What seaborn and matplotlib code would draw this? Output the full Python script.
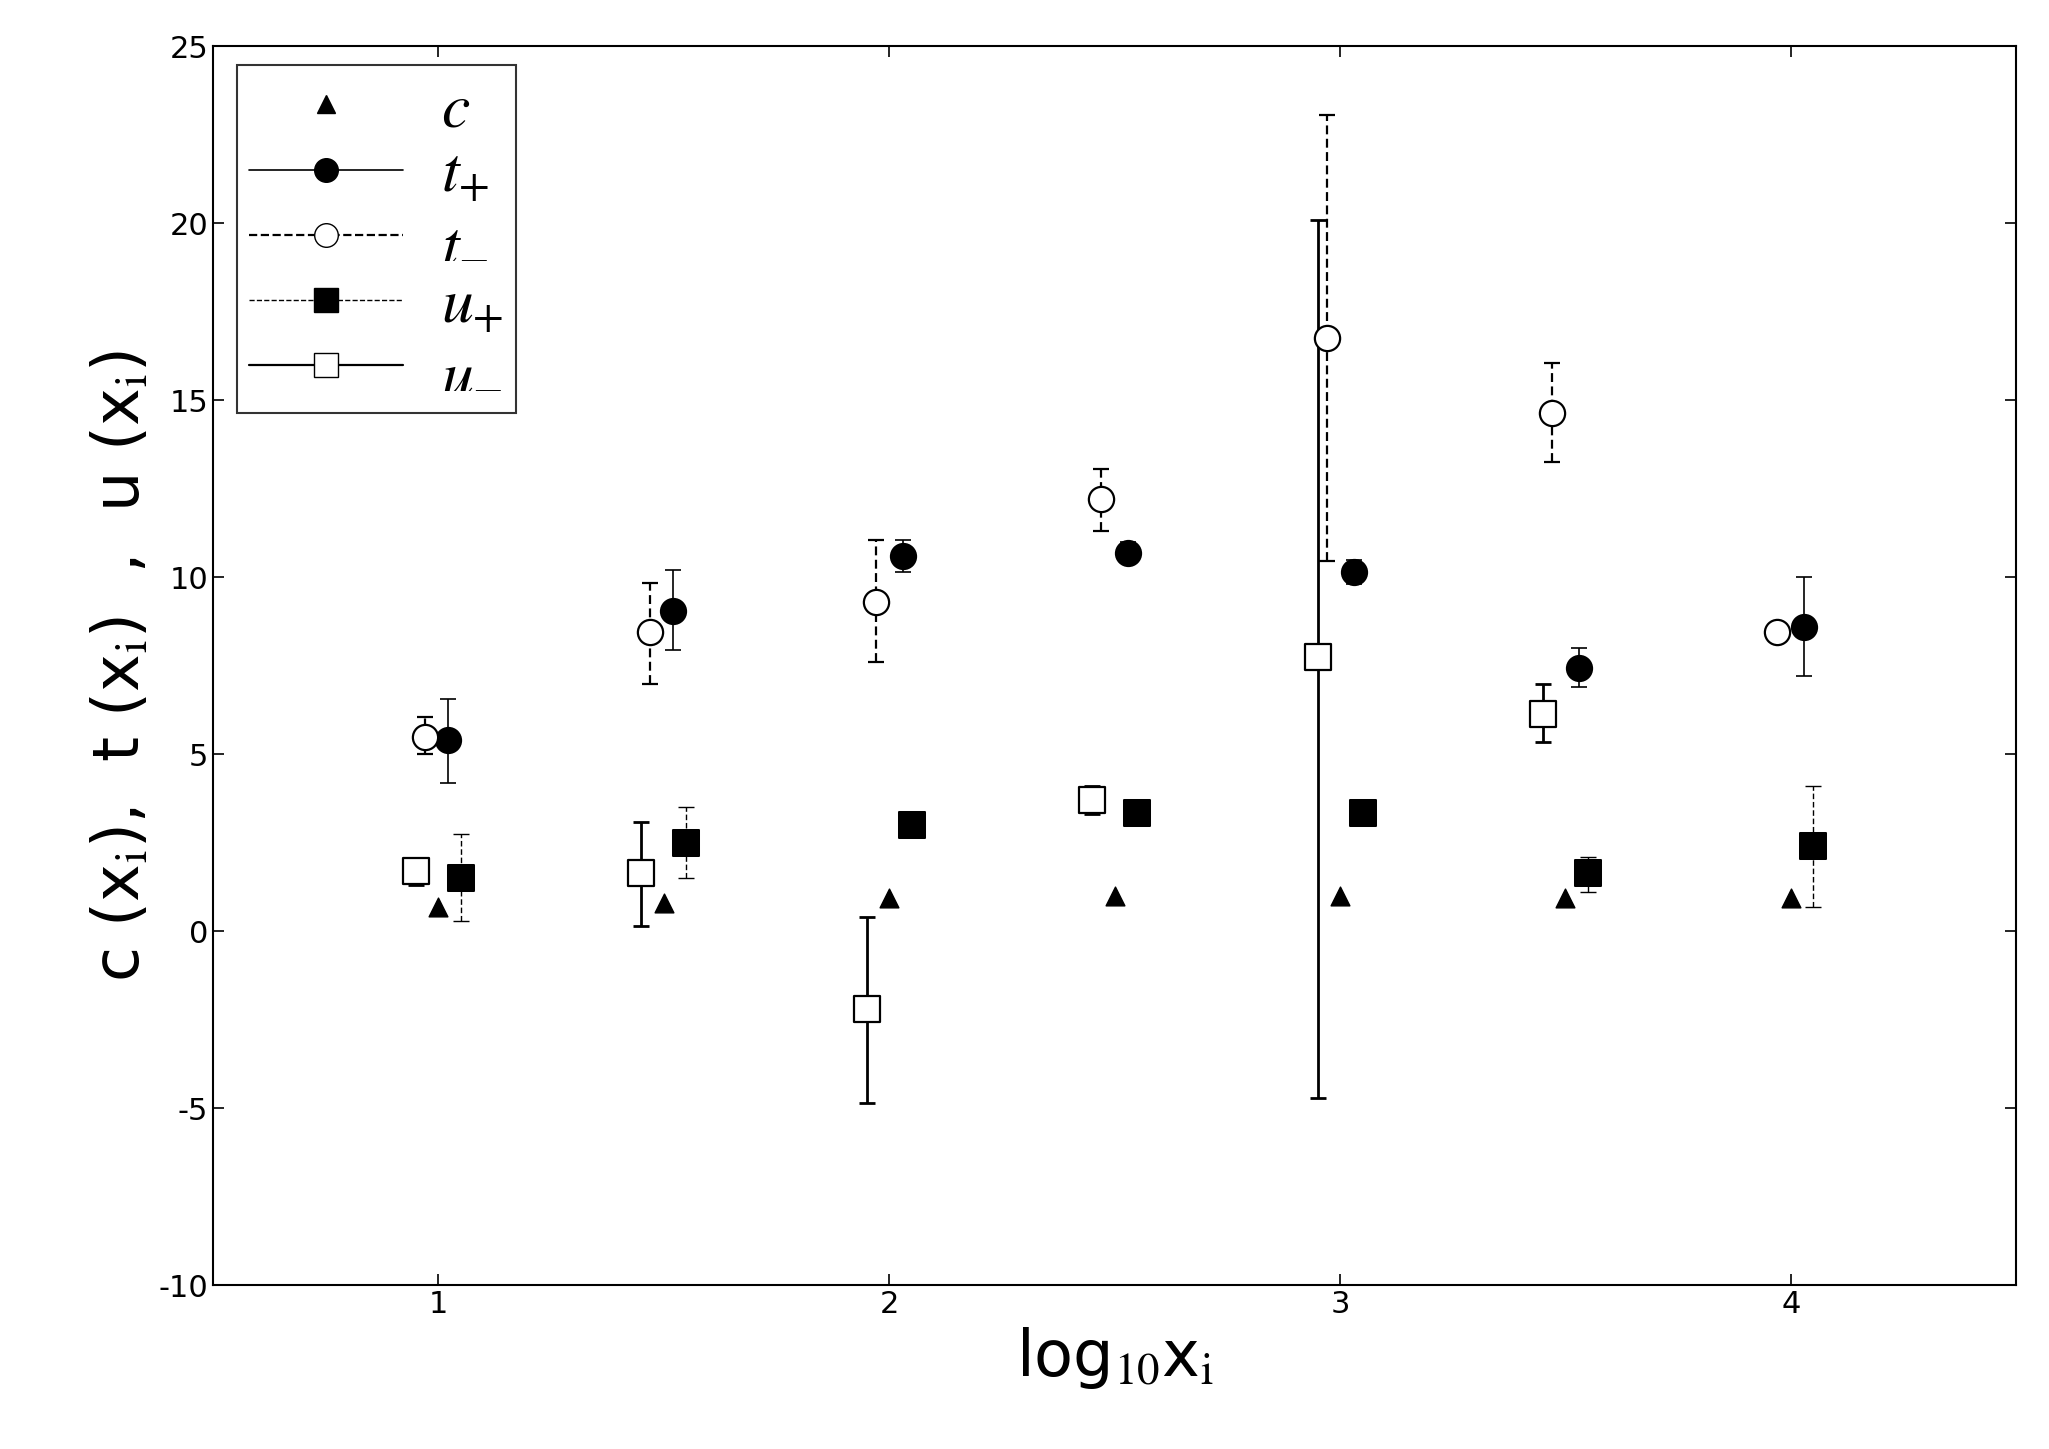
import matplotlib
matplotlib.use("Agg")
import matplotlib.pyplot as plt
import seaborn as sns
import numpy as np
from matplotlib.lines import Line2D

sns.set_theme(style="ticks")
plt.rcParams['font.family'] = ['DejaVu Sans']
plt.rcParams['mathtext.fontset'] = 'stix'
plt.rcParams['axes.unicode_minus'] = False
plt.rcParams['text.color'] = 'black'
plt.rcParams['axes.labelcolor'] = 'black'
plt.rcParams['xtick.color'] = 'black'
plt.rcParams['ytick.color'] = 'black'

c_x = [1.0, 1.5, 2.0, 2.5, 3.0, 3.5, 4.0]
c_y = [0.7, 0.8, 0.95, 1.0, 1.0, 0.95, 0.95]

tp_x = [1.02, 1.52, 2.03, 2.53, 3.03, 3.53, 4.03]
tp_y = [5.4, 9.05, 10.6, 10.7, 10.15, 7.45, 8.6]
tp_lo = [4.2, 7.95, 10.15, 10.4, 9.8, 6.9, 7.2]
tp_hi = [6.55, 10.2, 11.05, 11.0, 10.5, 8.0, 10.0]

tm_x = [0.97, 1.47, 1.97, 2.47, 2.97, 3.47, 3.97]
tm_y = [5.5, 8.45, 9.3, 12.2, 16.75, 14.65, 8.45]
tm_lo = [5.0, 7.0, 7.6, 11.3, 10.45, 13.25, 8.45]
tm_hi = [6.05, 9.85, 11.05, 13.05, 23.05, 16.05, 8.45]

up_x = [1.05, 1.55, 2.05, 2.55, 3.05, 3.55, 4.05]
up_y = [1.5, 2.5, 3.0, 3.35, 3.35, 1.65, 2.4]
up_lo = [0.3, 1.5, 3.0, 3.35, 3.35, 1.1, 0.7]
up_hi = [2.75, 3.5, 3.0, 3.35, 3.35, 2.1, 4.1]

um_x = [0.95, 1.45, 1.95, 2.45, 2.95, 3.45]
um_y = [1.7, 1.65, -2.2, 3.7, 7.75, 6.15]
um_lo = [1.3, 0.15, -4.85, 3.3, -4.7, 5.35]
um_hi = [2.0, 3.1, 0.4, 4.1, 20.1, 7.0]

fig = plt.figure(figsize=(20.49, 14.49), dpi=100)
ax = fig.add_axes([0.104, 0.113, 0.88, 0.855])

def eb(x, y, lo, hi, ls, lw):
    y = np.array(y); err = [y - np.array(lo), np.array(hi) - y]
    cont = ax.errorbar(x, y, yerr=err, fmt='none', ecolor='black', elinewidth=lw,
                       capsize=6, capthick=lw, zorder=1)
    for l in cont[2]:
        l.set_linestyle(ls)

eb(tp_x, tp_y, tp_lo, tp_hi, '-', 1.2)
eb(tm_x, tm_y, tm_lo, tm_hi, (0, (4, 2)), 1.6)
eb(up_x, up_y, up_lo, up_hi, (0, (4, 2)), 1.0)
eb(um_x, um_y, um_lo, um_hi, '-', 2.0)

sns.scatterplot(x=c_x, y=c_y, marker='^', s=180, color='black', edgecolor='black', ax=ax, zorder=3)
sns.scatterplot(x=tp_x, y=tp_y, marker='o', s=330, color='black', edgecolor='black', ax=ax, zorder=3)
sns.scatterplot(x=tm_x, y=tm_y, marker='o', s=330, facecolor='white', edgecolor='black', linewidth=1.6, ax=ax, zorder=3)
sns.scatterplot(x=up_x, y=up_y, marker='s', s=330, color='black', edgecolor='black', ax=ax, zorder=3)
sns.scatterplot(x=um_x, y=um_y, marker='s', s=330, facecolor='white', edgecolor='black', linewidth=1.6, ax=ax, zorder=3)

ax.set_xlim(0.5, 4.5)
ax.set_ylim(-10, 25)
ax.set_xticks([1, 2, 3, 4])
ax.set_yticks(range(-10, 26, 5))
ax.tick_params(labelsize=22, direction='in', length=8, width=1.2, top=True, right=True)
for s in ax.spines.values():
    s.set_linewidth(1.5); s.set_color('black')
ax.set_xlabel(r'log$_{\rm 10}$x$_{\rm i}$', fontsize=46)
ax.set_ylabel(r'c (x$_{\rm i}$),  t (x$_{\rm i}$)  ,  u (x$_{\rm i}$)', fontsize=46)

handles = [
    Line2D([], [], marker='^', color='black', ls='none', markersize=13),
    Line2D([], [], marker='o', color='black', ls='-', lw=1.2, markersize=17),
    Line2D([], [], marker='o', color='black', mfc='white', ls='--', lw=1.6, markersize=17),
    Line2D([], [], marker='s', color='black', ls='--', lw=1.0, markersize=17),
    Line2D([], [], marker='s', color='black', mfc='white', ls='-', lw=1.6, markersize=17),
]
labels = [r'$c$', r'$t_{+}$', r'$t_{-}$', r'$u_{+}$', r'$u_{-}$']
leg = ax.legend(handles, labels, loc='upper left', fontsize=46, frameon=True, fancybox=False,
                edgecolor='black', handlelength=2.4, borderpad=0.2, labelspacing=0.05,
                handletextpad=0.6, borderaxespad=0.0, bbox_to_anchor=(0.013, 0.985))
leg.get_frame().set_linewidth(1.5)
for t in leg.get_texts():
    t.set_color('black')

fig.savefig('out.png', dpi=100)
